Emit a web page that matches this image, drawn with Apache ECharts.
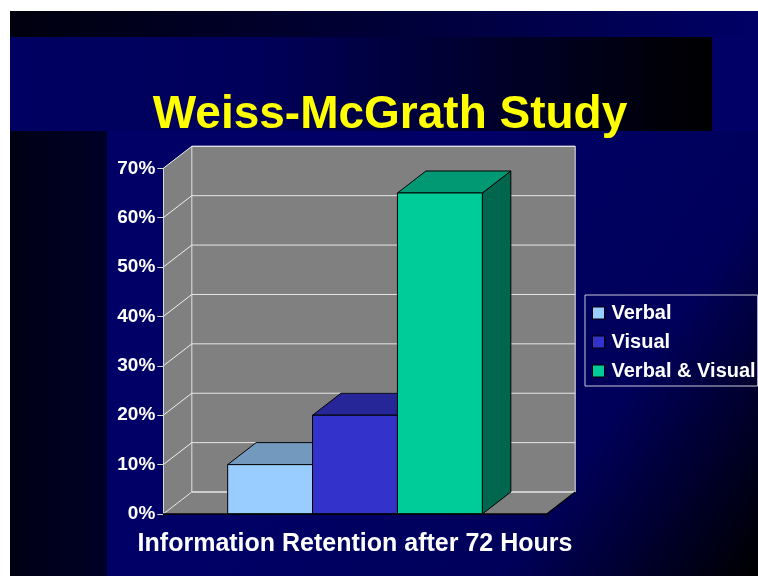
<!DOCTYPE html>
<html>
<head>
<meta charset="utf-8">
<script src="https://cdn.jsdelivr.net/npm/echarts@6/dist/echarts.min.js"></script>
<style>
  html, body { margin: 0; padding: 0; background: #fff; }
  #chart { width: 758px; height: 576px; }
</style>
</head>
<body>
<div id="chart"></div>
<script>
  // data
  var categories = ['72 Hours'];
  var seriesNames = ['Verbal', 'Visual', 'Verbal & Visual'];
  var verbal = [10];
  var visual = [20];
  var verbalVisual = [65];
  var yTicks = [0, 10, 20, 30, 40, 50, 60, 70];
  var chartTitle = 'Weiss-McGrath Study';
  var xTitle = 'Information Retention after 72 Hours';

  // 3d look
  var DX = 28.5, DY = -22;
  var BAR_RATIO = 0.2214;
  var FONT = '"Liberation Sans", Arial, sans-serif';
  var palette = [
    { front: '#99CCFF', top: '#7399BF', side: '#7399BF' },
    { front: '#3333CC', top: '#262699', side: '#262699' },
    { front: '#00CC99', top: '#009973', side: '#00664D' }
  ];

  var myChart = echarts.init(document.getElementById('chart'));

  function wallsItem(params, api) {
    var base = api.coord([api.value(0), yTicks[0]]);
    var w = api.size([1, 0])[0];
    var L = base[0] - w / 2, R = base[0] + w / 2;
    var yB = base[1];
    var yT = api.coord([api.value(0), yTicks[yTicks.length - 1]])[1];
    var kids = [];
    kids.push({ type: 'polygon', shape: { points: [[L, yB], [R, yB], [R + DX, yB + DY], [L + DX, yB + DY]] },
      style: { fill: '#808080' } });
    kids.push({ type: 'polygon', shape: { points: [[L, yB], [L + DX, yB + DY], [L + DX, yT + DY], [L, yT]] },
      style: { fill: '#808080' } });
    kids.push({ type: 'rect', shape: { x: L + DX, y: yT + DY, width: R - L, height: yB - yT },
      style: { fill: '#808080', stroke: '#E6E6E6', lineWidth: 1 } });
    for (var i = 0; i < yTicks.length; i++) {
      var y = api.coord([api.value(0), yTicks[i]])[1];
      kids.push({ type: 'line', shape: { x1: L + DX, y1: y + DY, x2: R + DX, y2: y + DY },
        style: { stroke: '#E6E6E6', lineWidth: 1 } });
      kids.push({ type: 'line', shape: { x1: L, y1: y, x2: L + DX, y2: y + DY },
        style: { stroke: '#F0F0F0', lineWidth: 1 } });
    }
    kids.push({ type: 'line', shape: { x1: R, y1: yB, x2: R + DX, y2: yB + DY },
      style: { stroke: '#000', lineWidth: 1.2 } });
    return { type: 'group', children: kids };
  }

  function barItem(k) {
    return function (params, api) {
      var base = api.coord([api.value(0), 0]);
      var top = api.coord([api.value(0), api.value(1)]);
      var bw = api.size([1, 0])[0] * BAR_RATIO;
      var x0 = base[0] - bw * 1.5 + bw * k;
      var x1 = x0 + bw;
      var yb = base[1], yt = top[1];
      var c = palette[k];
      return {
        type: 'group',
        children: [
          { type: 'polygon', shape: { points: [[x1, yt], [x1 + DX, yt + DY], [x1 + DX, yb + DY], [x1, yb]] },
            style: { fill: c.side, stroke: '#000', lineWidth: 1 } },
          { type: 'polygon', shape: { points: [[x0, yt], [x1, yt], [x1 + DX, yt + DY], [x0 + DX, yt + DY]] },
            style: { fill: c.top, stroke: '#000', lineWidth: 1 } },
          { type: 'rect', shape: { x: x0, y: yt, width: bw, height: yb - yt },
            style: { fill: c.front, stroke: '#000', lineWidth: 1 } }
        ]
      };
    };
  }

  function toData(arr) {
    return arr.map(function (v, i) { return [i, v]; });
  }

  var values = [verbal, visual, verbalVisual];
  var series = [{
    type: 'custom',
    name: 'walls',
    silent: true,
    renderItem: wallsItem,
    data: [[0, 0]],
    z: 1
  }];
  values.forEach(function (arr, k) {
    series.push({
      type: 'custom',
      name: seriesNames[k],
      renderItem: barItem(k),
      itemStyle: { color: palette[k].front },
      data: toData(arr),
      z: 2
    });
  });

  myChart.setOption({
    backgroundColor: '#ffffff',
    animation: false,
    graphic: [
      { type: 'rect', silent: true, z: -10, shape: { x: 10, y: 11, width: 748, height: 565 }, style: { fill: '#000066' } },
      { type: 'rect', silent: true, z: -9, shape: { x: 107, y: 131, width: 651, height: 445 },
        style: { fill: new echarts.graphic.LinearGradient(0.4, 0.4, 1, 1, [
          { offset: 0, color: '#000066' }, { offset: 0.55, color: '#00005A' }, { offset: 1, color: '#000000' }]) } },
      { type: 'rect', silent: true, z: -9, shape: { x: 10, y: 11, width: 748, height: 26 },
        style: { fill: new echarts.graphic.LinearGradient(0, 0, 1, 0, [
          { offset: 0, color: '#00000E' }, { offset: 0.6, color: '#000040' }, { offset: 1, color: '#000066' }]) } },
      { type: 'rect', silent: true, z: -9, shape: { x: 10, y: 37, width: 702, height: 94 },
        style: { fill: new echarts.graphic.LinearGradient(0, 0, 1, 0, [
          { offset: 0, color: '#000062' }, { offset: 0.35, color: '#00005A' }, { offset: 1, color: '#000000' }]) } },
      { type: 'rect', silent: true, z: -9, shape: { x: 10, y: 131, width: 97, height: 445 },
        style: { fill: new echarts.graphic.LinearGradient(0, 0, 1, 0, [
          { offset: 0, color: '#000014' }, { offset: 1, color: '#000028' }]) } }
    ],
    title: {
      text: chartTitle,
      left: 385,
      top: 87,
      textAlign: 'center',
      textStyle: { color: '#FFFF00', fontFamily: FONT, fontWeight: 'bold', fontSize: 46 }
    },
    legend: {
      data: seriesNames.map(function (n) {
        return { name: n, itemStyle: { borderColor: '#000', borderWidth: 1 } };
      }),
      orient: 'vertical',
      left: 585,
      top: 295,
      padding: [8, 2, 5, 7],
      itemWidth: 12,
      itemHeight: 12,
      itemGap: 9,
      icon: 'rect',
      borderColor: '#C8C8D8',
      borderWidth: 1,
      textStyle: { color: '#fff', fontFamily: FONT, fontWeight: 'bold', fontSize: 20, padding: [0, 0, 0, 2] }
    },
    grid: { left: 163.3, right: 211.3, top: 168.3, bottom: 62 },
    xAxis: {
      type: 'category',
      data: categories,
      z: 5,
      name: xTitle,
      nameLocation: 'middle',
      nameGap: 18,
      nameTextStyle: { color: '#fff', fontFamily: FONT, fontWeight: 'bold', fontSize: 25 },
      axisLine: { lineStyle: { color: '#000', width: 1.5 } },
      axisTick: { show: true, length: 4, lineStyle: { color: '#000' } },
      axisLabel: { show: false },
      splitLine: { show: false }
    },
    yAxis: {
      type: 'value',
      min: yTicks[0],
      max: yTicks[yTicks.length - 1],
      interval: 10,
      z: 5,
      axisLine: { show: true, lineStyle: { color: '#D8D8D8', width: 1 } },
      axisTick: { show: true, length: 6, lineStyle: { color: '#D8D8D8' } },
      axisLabel: { color: '#fff', fontFamily: FONT, fontWeight: 'bold', fontSize: 19, margin: 8,
        formatter: '{value}%' },
      splitLine: { show: false }
    },
    series: series
  });
</script>
</body>
</html>
